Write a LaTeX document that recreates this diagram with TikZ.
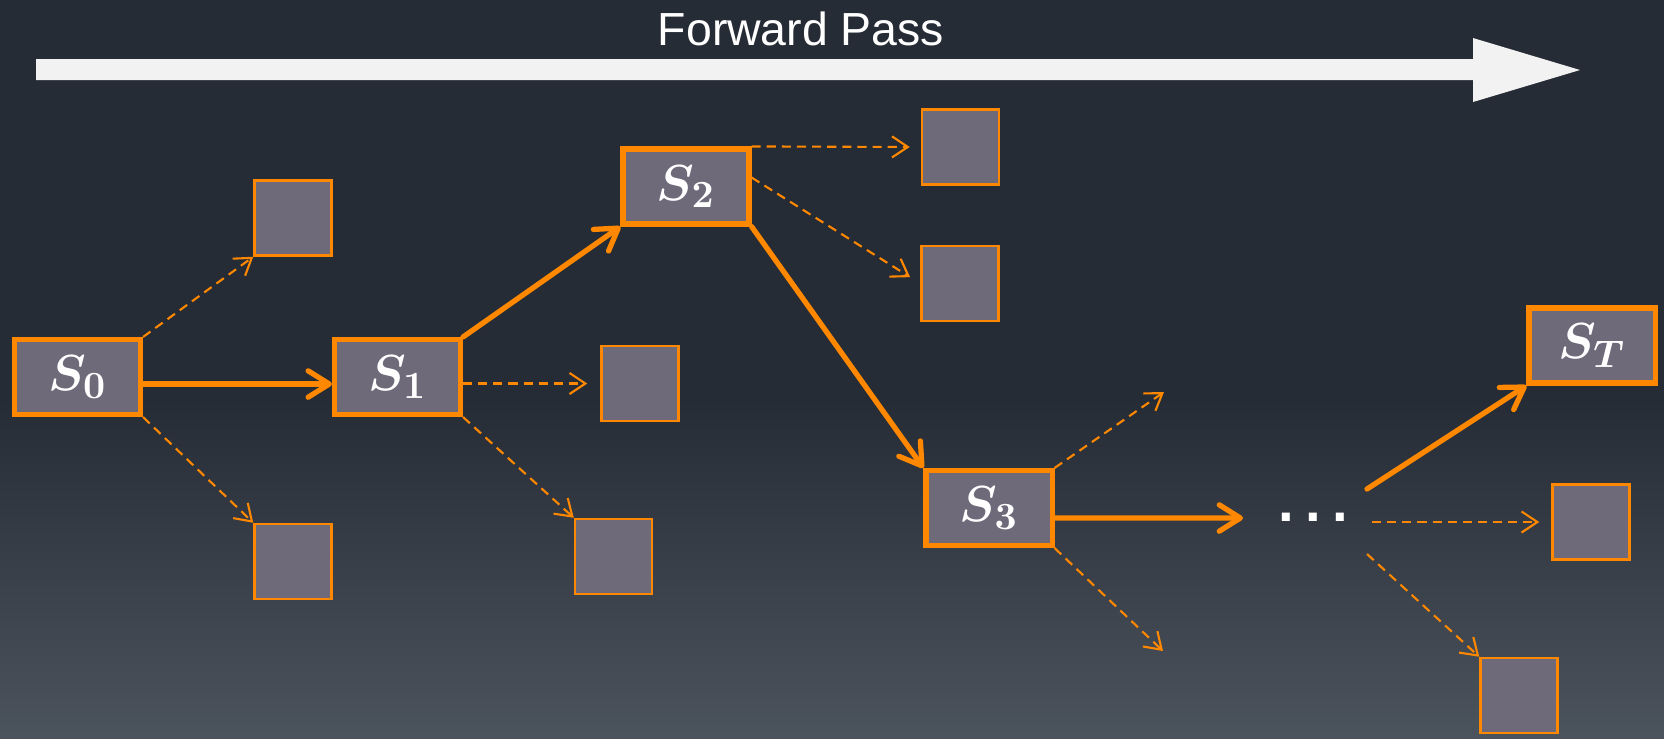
\documentclass[tikz,border=0pt]{standalone}
\usepackage{fontspec}
\newfontfamily\passfont{Liberation Sans}
\usetikzlibrary{arrows.meta}

\definecolor{bgdark}{RGB}{38,44,53}
\definecolor{bglight}{RGB}{75,83,92}
\definecolor{boxfill}{RGB}{110,106,122}
\definecolor{pathorange}{RGB}{255,136,0}
\definecolor{passwhite}{RGB}{242,242,242}

\tikzset{
  state/.style={rectangle,draw=pathorange,fill=boxfill,line width=1.45pt,
    minimum width=1.26cm,minimum height=0.75cm,inner sep=0pt,text=white,
    font=\fontsize{15.5}{17}\selectfont\boldmath},
  leaf/.style={rectangle,draw=pathorange,fill=boxfill,line width=0.7pt,
    minimum width=0.77cm,minimum height=0.75cm,inner sep=0pt},
  taken/.style={draw=pathorange,line width=1.5pt,line cap=round,
    -{Straight Barb[length=6pt,width=7.5pt,round]}},
  option/.style={draw=pathorange,line width=0.6pt,dash pattern=on 2.6pt off 1.7pt,
    -{Straight Barb[length=4.5pt,width=6pt]}}
}

\begin{document}
\begin{tikzpicture}[x=0.01cm,y=-0.01cm]
\useasboundingbox (0,0) rectangle (1664,738);
% background
\fill[bgdark] (0,0) rectangle (1664,400);
\shade[top color=bgdark,bottom color=bglight] (0,399) rectangle (1664,738);

% forward pass arrow
\fill[passwhite] (36,59) -- (1473,59) -- (1473,38) -- (1580,70) -- (1473,102) -- (1473,80) -- (36,80) -- cycle;
\node[font=\passfont\fontsize{13.2}{15}\selectfont,text=white,anchor=base] (pass) at (801,45) {Forward Pass};

% states
\node[state] (S0) at (77.5,377) {$S_0$};
\node[state] (S1) at (397.5,377) {$S_1$};
\node[state] (S2) at (686,186.5) {$S_2$};
\node[state] (S3) at (989,508) {$S_3$};
\node[state] (ST) at (1592,345.5) {$S_T$};

% other choices
\node[leaf] (a0) at (293,218) {};
\node[leaf] (b0) at (293,561.5) {};
\node[leaf] (a1) at (640,383.5) {};
\node[leaf] (b1) at (613.5,556.5) {};
\node[leaf] (a2) at (960.5,147) {};
\node[leaf] (b2) at (960,283.5) {};
\node[leaf] (aT) at (1591,522) {};
\node[leaf] (bT) at (1519,695.5) {};

\node[text=white,font=\passfont\bfseries\fontsize{16}{18}\selectfont] (dots) at (1313,517) {.\kern3.2pt.\kern3.2pt.};

\coordinate (u3) at (1164,392);
\coordinate (d3) at (1163,651);
\coordinate (r3) at (1243,518);
\coordinate (t0) at (1367,489);
\coordinate (t1) at (1372,522);
\coordinate (t2) at (1367,554);

% path taken
\draw[taken] ([yshift=-0.07cm]S0.east) -- ([yshift=-0.07cm]S1.west);
\draw[taken] (S1.north east) -- (S2.south west);
\draw[taken] (S2.south east) -- (S3.north west);
\draw[taken] ([yshift=-0.1cm]S3.east) -- (r3);
\draw[taken] (t0) -- (ST.south west);

% branches not taken
\draw[option] (S0.north east) -- (a0.south west);
\draw[option] (S0.south east) -- (b0.north west);
\draw[option,shorten >=0.13cm] (S1.east |- a1.west) -- (a1.west);
\draw[option] (S1.south east) -- (b1.north west);
\draw[option,shorten >=0.11cm] (S2.north east) -- (a2.west);
\draw[option,shorten >=0.12cm] ([yshift=0.09cm]S2.east) -- (b2.west);
\draw[option] (S3.north east) -- (u3);
\draw[option] (S3.south east) -- (d3);
\draw[option,shorten >=0.12cm] (t1) -- (aT.west);
\draw[option] (t2) -- (bT.north west);
\end{tikzpicture}
\end{document}
